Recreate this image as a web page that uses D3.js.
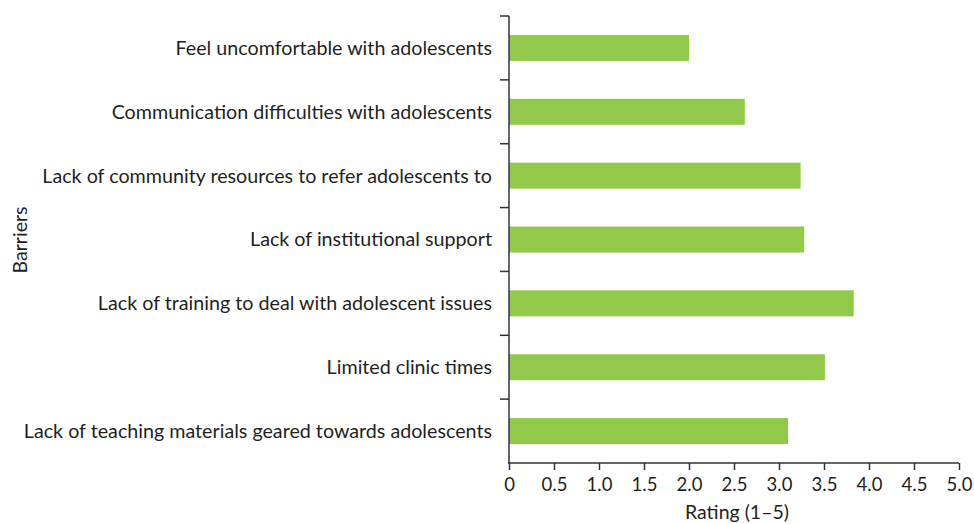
<!DOCTYPE html>
<html>
<head>
<meta charset="utf-8">
<script src="https://cdn.jsdelivr.net/npm/d3@7"></script>
<style>
  body { margin: 0; background: #fff; }
  svg text { font-family: Lato, "Open Sans", sans-serif; fill: #231f20; }
</style>
</head>
<body>
<svg width="974" height="524"></svg>
<script>
var barriers = [
    "Feel uncomfortable with adolescents",
    "Communication difficulties with adolescents",
    "Lack of community resources to refer adolescents to",
    "Lack of institutional support",
    "Lack of training to deal with adolescent issues",
    "Limited clinic times",
    "Lack of teaching materials geared towards adolescents"
];
var ratings = [2.0, 2.62, 3.24, 3.28, 3.83, 3.51, 3.10];
var xTicks = [0, 0.5, 1.0, 1.5, 2.0, 2.5, 3.0, 3.5, 4.0, 4.5, 5.0];

var table = barriers.map(function(b, i) { return { name: b, value: ratings[i] }; });

const plotLeft = 509, plotTop = 16, plotRight = 959, plotBottom = 463;
const svg = d3.select('svg');

const xScale = d3.scaleLinear()
    .domain([0, 5])
    .range([plotLeft, plotRight]);

const yScale = d3.scaleBand()
    .domain(barriers)
    .range([plotTop, plotBottom])
    .padding(0);

const barH = 26;

// bars
svg.selectAll('rect.bar')
    .data(table)
    .enter()
    .append('rect')
    .attr('class', 'bar')
    .attr('x', xScale(0))
    .attr('y', (d) => yScale(d.name) + yScale.bandwidth() / 2 - barH / 2)
    .attr('width', (d) => xScale(d.value) - xScale(0))
    .attr('height', barH)
    .attr('fill', '#92c94a');

// y axis line + band boundary ticks
const axisColor = '#333';
svg.append('line')
    .attr('x1', plotLeft).attr('x2', plotLeft)
    .attr('y1', plotTop).attr('y2', plotBottom)
    .attr('stroke', axisColor).attr('stroke-width', 1.5);

var bounds = barriers.map((b) => yScale(b));
svg.selectAll('line.ytick')
    .data(bounds)
    .enter()
    .append('line')
    .attr('class', 'ytick')
    .attr('x1', plotLeft - 9).attr('x2', plotLeft)
    .attr('y1', (d) => d).attr('y2', (d) => d)
    .attr('stroke', axisColor).attr('stroke-width', 1.5);

// category labels
svg.selectAll('text.cat')
    .data(barriers)
    .enter()
    .append('text')
    .attr('class', 'cat')
    .attr('x', plotLeft - 17)
    .attr('y', (d) => yScale(d) + yScale.bandwidth() / 2)
    .attr('dy', '0.35em')
    .attr('text-anchor', 'end')
    .style('font-size', '19.7px')
    .text((d) => d);

// x axis
const xAxis = svg.append('g')
    .attr('transform', `translate(0, ${plotBottom})`)
    .call(d3.axisBottom(xScale)
        .tickValues(xTicks)
        .tickSize(7)
        .tickPadding(6)
        .tickFormat((d) => d === 0 ? '0' : d3.format('.1f')(d)));

xAxis.select('.domain').attr('stroke', axisColor).attr('stroke-width', 1.5)
    .attr('d', `M${plotLeft - 1},0H${plotRight}`);
xAxis.selectAll('.tick line').attr('stroke', axisColor).attr('stroke-width', 1.5);
xAxis.selectAll('.tick text')
    .attr('y', 28)
    .attr('dy', 0)
    .style('font-size', '18.5px')
    .style('font-family', 'Lato, sans-serif')
    .attr('fill', '#231f20');

// axis titles
svg.append('text')
    .attr('x', 737)
    .attr('y', 519)
    .attr('text-anchor', 'middle')
    .style('font-size', '19.5px')
    .text('Rating (1–5)');

svg.append('text')
    .attr('transform', 'translate(27, 240) rotate(-90)')
    .attr('text-anchor', 'middle')
    .style('font-size', '19.5px')
    .text('Barriers');
</script>
</body>
</html>
